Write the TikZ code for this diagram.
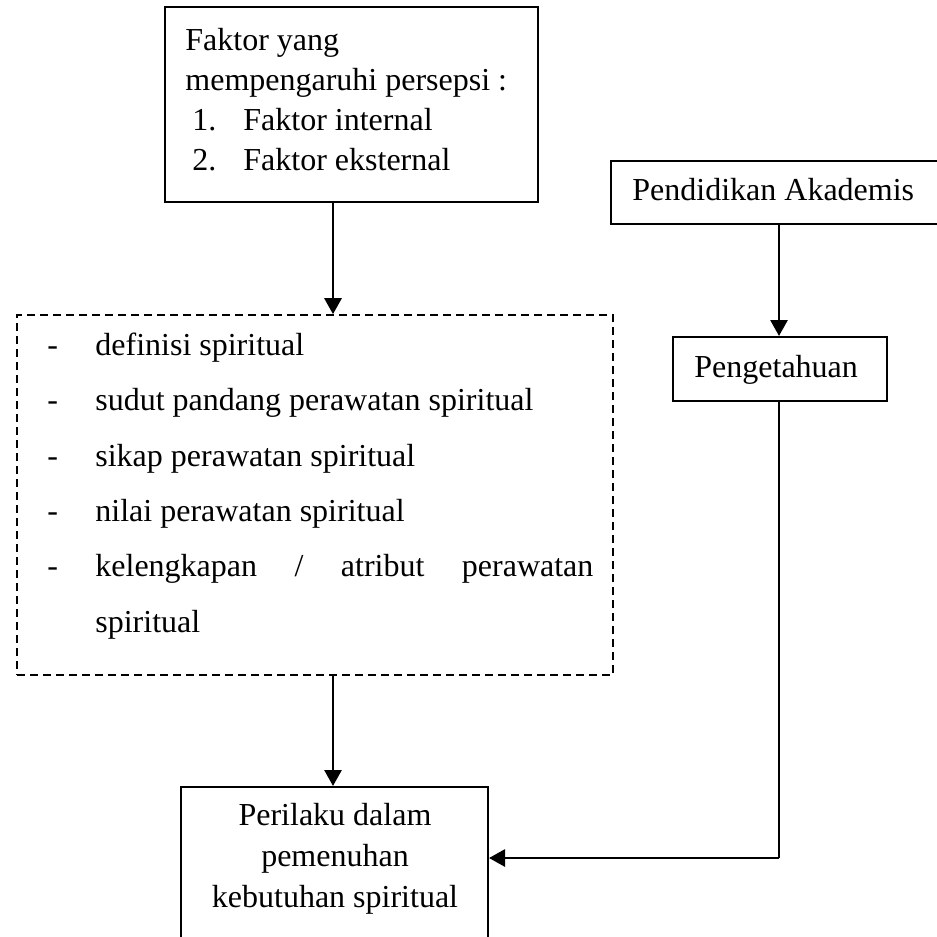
\documentclass[tikz,border=0pt]{standalone}
\usepackage{fontspec}
\setmainfont{Liberation Serif}
\usetikzlibrary{arrows.meta}
\begin{document}
\begin{tikzpicture}[x=0.5pt,y=-0.5pt,
  box/.style={draw, line width=1pt, inner sep=0pt, rectangle},
  dbox/.style={draw, line width=0.8pt, dash pattern=on 4pt off 2.5pt, inner sep=0pt, rectangle},
  txt/.style={inner sep=0pt, font=\fontsize{16pt}{20pt}\selectfont},
  arr/.style={line width=1.4pt, -{Triangle[length=8pt,width=8.5pt]}},
  conn/.style={line width=1.4pt}]
\useasboundingbox (0,0) rectangle (937,937);
\clip (0,0) rectangle (937,937);
% boxes
\node[box, minimum width=186.5pt, minimum height=97.5pt] (top) at (351.5,104.5) {};
\node[dbox, minimum width=298pt, minimum height=180pt] (mid) at (315,495) {};
\node[box, minimum width=153.5pt, minimum height=91.5pt] (bot) at (334.5,878.5) {};
\node[box, minimum width=179.5pt, minimum height=31.5pt] (pend) at (790.5,192.5) {};
\node[box, minimum width=107pt, minimum height=32pt] (peng) at (780,369) {};
% top box text
\node[txt, anchor=base west] (t1) at (185,50) {Faktor yang};
\node[txt, anchor=base west] (t2) at (185,90) {mempengaruhi persepsi :};
\node[txt, anchor=base west] (t3n) at (192,130) {1.};
\node[txt, anchor=base west] (t3) at (243,130) {Faktor internal};
\node[txt, anchor=base west] (t4n) at (192,170) {2.};
\node[txt, anchor=base west] (t4) at (243,170) {Faktor eksternal};
% dashed box text
\node[txt, anchor=base west] (d1) at (47,355) {-};
\node[txt, anchor=base west] (l1) at (95,355) {definisi spiritual};
\node[txt, anchor=base west] (d2) at (47,410) {-};
\node[txt, anchor=base west] (l2) at (95,410) {sudut pandang perawatan spiritual};
\node[txt, anchor=base west] (d3) at (47,466) {-};
\node[txt, anchor=base west] (l3) at (95,466) {sikap perawatan spiritual};
\node[txt, anchor=base west] (d4) at (47,521) {-};
\node[txt, anchor=base west] (l4) at (95,521) {nilai perawatan spiritual};
\node[txt, anchor=base west] (d5) at (47,576) {-};
\node[txt, anchor=base west] (l5) at (95,576) {\hbox to 249pt{kelengkapan\hfill/\hfill atribut\hfill perawatan}};
\node[txt, anchor=base west] (l6) at (95,632) {spiritual};
% right boxes text
\node[txt, anchor=base west] (pt) at (632,200) {Pendidikan Akademis};
\node[txt, anchor=base west] (gt) at (694,377) {Pengetahuan};
% bottom box text
\node[txt, anchor=base] (b1) at (335,825) {Perilaku dalam};
\node[txt, anchor=base] (b2) at (335,866) {pemenuhan};
\node[txt, anchor=base] (b3) at (335,907) {kebutuhan spiritual};
% connectors
\coordinate (cx) at (333,0);
\coordinate (rx) at (779,0);
\coordinate (turn) at (779,858);
\draw[arr] (top.south -| cx) -- (mid.north -| cx);
\draw[arr] (mid.south -| cx) -- (bot.north -| cx);
\draw[arr] (pend.south -| rx) -- (peng.north -| rx);
\draw[conn] (peng.south -| rx) -- (turn);
\draw[arr] (turn) -- (bot.east |- turn);
\end{tikzpicture}
\end{document}
